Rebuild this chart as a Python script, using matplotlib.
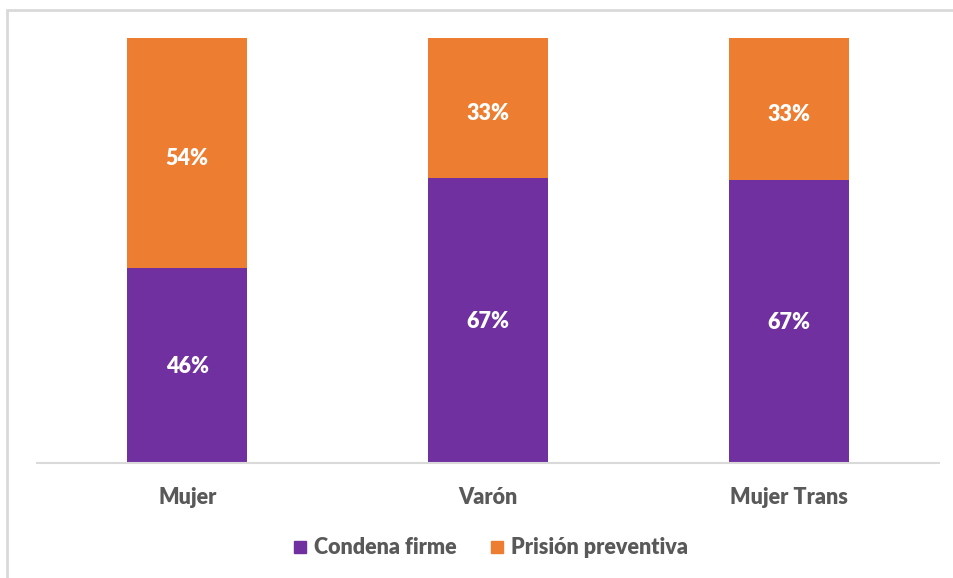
import matplotlib.pyplot as plt
from matplotlib.lines import Line2D
from matplotlib.patches import Rectangle

plt.rcParams["font.family"] = ["Lato", "DejaVu Sans"]

categories = ["Mujer", "Varón", "Mujer Trans"]
condena_firme = [45.9, 67.1, 66.6]
prision_preventiva = [54.1, 32.9, 33.4]
series_names = ["Condena firme", "Prisión preventiva"]

PURPLE = "#7030A0"
ORANGE = "#ED7D31"
GRAY = "#595959"
WEIGHT = 800

fig = plt.figure(figsize=(9.54, 5.78), dpi=100)
ax = fig.add_axes([37 / 954, 115 / 578, 902 / 954, 425 / 578])

x = list(range(len(categories)))
ax.bar(x, condena_firme, width=0.4, color=PURPLE)
ax.bar(x, prision_preventiva, width=0.4, bottom=condena_firme, color=ORANGE)

for xi, a, b in zip(x, condena_firme, prision_preventiva):
    ax.text(xi, a / 2 - 0.3, f"{round(a)}%", ha="center", va="center",
            color="white", fontsize=15.5, fontweight=WEIGHT)
    ax.text(xi, a + b / 2 - 1.2, f"{round(b)}%", ha="center", va="center",
            color="white", fontsize=15.5, fontweight=WEIGHT)

ax.set_xlim(-0.5, 2.5)
ax.set_ylim(0, 100)
ax.set_yticks([])
ax.set_xticks(x)
ax.set_xticklabels(categories, fontsize=15.5, fontweight=WEIGHT, color=GRAY)
ax.tick_params(axis="x", length=0, pad=17)
for side in ["top", "right", "left"]:
    ax.spines[side].set_visible(False)
ax.spines["bottom"].set_color("#D9D9D9")
ax.spines["bottom"].set_linewidth(1.5)

handles = [
    Line2D([], [], marker="s", linestyle="none", markersize=8.6, color=PURPLE),
    Line2D([], [], marker="s", linestyle="none", markersize=8.6, color=ORANGE),
]
leg = fig.legend(handles, series_names, loc="center", bbox_to_anchor=(491 / 954, 1 - 548 / 578),
                 ncol=2, frameon=False, handlelength=0.6, handletextpad=0.35,
                 columnspacing=1.6, prop={"size": 15.5, "weight": WEIGHT})
for t in leg.get_texts():
    t.set_color(GRAY)

# light frame visible on left and top edges
fig.patches.append(Rectangle((7 / 954, -0.1), 1.2, 1 - 10 / 578 + 0.1, transform=fig.transFigure,
                             fill=False, edgecolor="#D9D9D9", linewidth=2))

fig.savefig("out.png", dpi=100)
